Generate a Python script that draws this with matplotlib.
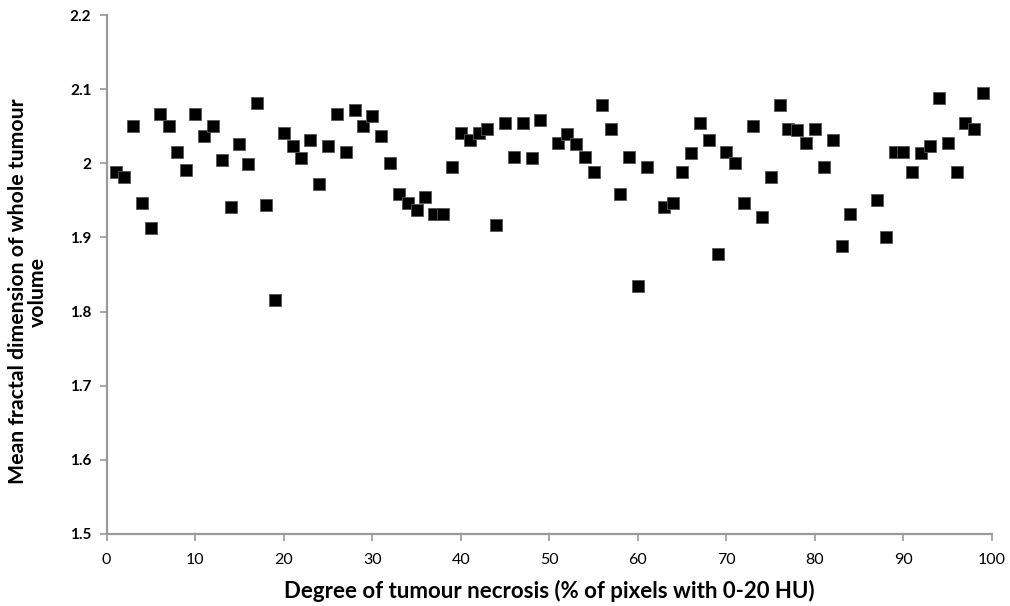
import numpy as np
import matplotlib
matplotlib.use("Agg")
from matplotlib import pyplot as plt

# degree of necrosis (%) and mean fractal dimension
necrosis = [1, 2, 3, 4, 5, 6, 7, 8, 9, 10,
            11, 12, 13, 14, 15, 16, 17, 18, 19, 20,
            21, 22, 23, 24, 25, 26, 27, 28, 29, 30,
            31, 32, 33, 34, 35, 36, 37, 38, 39, 40,
            41, 42, 43, 44, 45, 46, 47, 48, 49, 51,
            52, 53, 54, 55, 56, 57, 58, 59, 60, 61,
            63, 64, 65, 66, 67, 68, 69, 70, 71, 72,
            73, 74, 75, 76, 77, 78, 79, 80, 81, 82,
            83, 84, 87, 88, 89, 90, 91, 92, 93, 94,
            95, 96, 97, 98, 99]
fractal_dim = [1.988, 1.981, 2.050, 1.947, 1.913, 2.067, 2.050, 2.016, 1.991, 2.067,
               2.037, 2.050, 2.004, 1.941, 2.026, 1.999, 2.082, 1.944, 1.816, 2.041,
               2.023, 2.007, 2.032, 1.972, 2.023, 2.067, 2.016, 2.072, 2.050, 2.064,
               2.037, 2.000, 1.959, 1.947, 1.937, 1.954, 1.931, 1.931, 1.995, 2.041,
               2.032, 2.041, 2.047, 1.917, 2.054, 2.009, 2.054, 2.007, 2.059, 2.028,
               2.040, 2.026, 2.009, 1.988, 2.079, 2.047, 1.959, 2.009, 1.835, 1.995,
               1.941, 1.947, 1.988, 2.014, 2.054, 2.032, 1.878, 2.016, 2.000, 1.947,
               2.050, 1.928, 1.981, 2.079, 2.047, 2.045, 2.028, 2.047, 1.995, 2.032,
               1.888, 1.931, 1.951, 1.900, 2.016, 2.016, 1.988, 2.014, 2.023, 2.088,
               2.028, 1.988, 2.054, 2.047, 2.095]

x_ticks = np.arange(0, 101, 10)
y_ticks = [1.5, 1.6, 1.7, 1.8, 1.9, 2.0, 2.1, 2.2]
y_tick_labels = ["1.5", "1.6", "1.7", "1.8", "1.9", "2", "2.1", "2.2"]

plt.rcParams['font.family'] = ['Lato', 'DejaVu Sans']
axis_grey = "#9a9a9a"

fig = plt.figure(figsize=(10.1, 6.06), dpi=100)
ax = fig.add_axes([0.1056, 0.119, 0.8766, 0.856])

ax.plot(necrosis, fractal_dim, linestyle="none", marker="s", markersize=8.3,
        markerfacecolor="black", markeredgecolor="#555555", markeredgewidth=0.6)

ax.set_xlim(0, 100)
ax.set_ylim(1.5, 2.2)
ax.set_xticks(x_ticks)
ax.set_xticklabels([str(v) for v in x_ticks], fontsize=11.5)
ax.set_yticks(y_ticks)
ax.set_yticklabels(y_tick_labels, fontsize=11, fontweight="bold")

for side in ["top", "right"]:
    ax.spines[side].set_visible(False)
for side in ["left", "bottom"]:
    ax.spines[side].set_color(axis_grey)
    ax.spines[side].set_linewidth(1.6)
ax.tick_params(axis="both", direction="out", length=5, width=1.2, color=axis_grey)
ax.tick_params(axis="x", pad=9)
ax.tick_params(axis="y", pad=6)

ax.set_xlabel("Degree of tumour necrosis (% of pixels with 0-20 HU)",
              fontsize=16, fontweight="bold", labelpad=9)
ax.set_ylabel("Mean fractal dimension of whole tumour\nvolume",
              fontsize=15.3, fontweight="bold", linespacing=1.0)
ax.yaxis.set_label_coords(-0.066, 0.467)

fig.savefig("out.png", dpi=100)
